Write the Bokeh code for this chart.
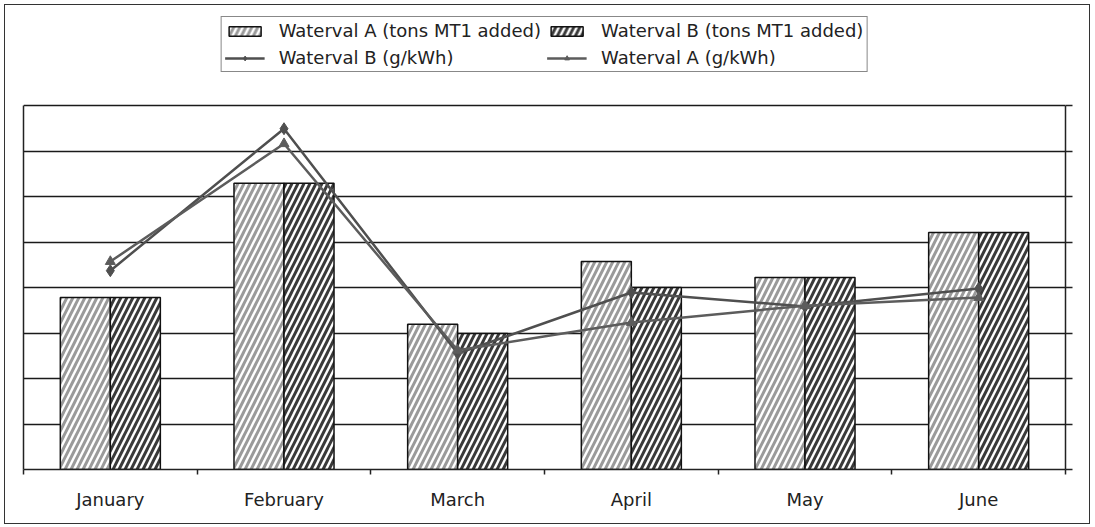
import numpy as np
from bokeh.plotting import figure
from bokeh.models import (Range1d, FixedTicker, LinearAxis, Legend, LegendItem,
                          ColumnDataSource)
from bokeh.transform import dodge
from bokeh.embed import file_html
from bokeh.resources import INLINE

# ---- data (axis units are unlabeled) ----
months = ["January", "February", "March", "April", "May", "June"]
tons_a = [3.78, 6.29, 3.19, 4.57, 4.22, 5.21]   # Waterval A (tons MT1 added)
tons_b = [3.78, 6.29, 2.99, 4.00, 4.22, 5.21]   # Waterval B (tons MT1 added)
gkwh_b = [4.37, 7.49, 2.55, 3.89, 3.58, 3.98]   # Waterval B (g/kWh)
gkwh_a = [4.57, 7.16, 2.62, 3.23, 3.60, 3.78]   # Waterval A (g/kWh)
y_ticks = [0, 1, 2, 3, 4, 5, 6, 7, 8]

FONT = "DejaVu Sans"
xs = np.arange(len(months)) + 0.5
src = ColumnDataSource(dict(x=xs, a=tons_a, b=tons_b, ga=gkwh_a, gb=gkwh_b))

# the frame is extended upward so that the legend sits above the value area
PLOT_H_PX = 364.0       # height of the value area (0..8)
LEGEND_ROOM_PX = 89.0   # room above it for the legend
y_top = max(y_ticks) * (PLOT_H_PX + LEGEND_ROOM_PX) / PLOT_H_PX

p = figure(width=1086, height=520,
           x_range=Range1d(0, len(months)), y_range=Range1d(0, y_top),
           output_backend="svg", toolbar_location=None, y_axis_location="right",
           min_border_left=18, min_border_right=26, min_border_top=11,
           min_border_bottom=56, outline_line_color=None,
           background_fill_color="white", border_fill_color="white",
           styles={"border": "1px solid #333", "margin-left": "4px",
                   "margin-top": "4px"})

# bottom axis: labels at category centres, tick marks at category boundaries
xa = p.xaxis[0]
xa.ticker = FixedTicker(ticks=list(xs), minor_ticks=list(range(len(months) + 1)))
xa.major_label_overrides = {float(x): m for x, m in zip(xs, months)}
xa.major_tick_out = 0
xa.major_tick_in = 0
xa.minor_tick_out = 5
xa.minor_tick_in = 0
xa.minor_tick_line_color = "#222"
xa.minor_tick_line_width = 1.5
xa.axis_line_color = "#222"
xa.axis_line_width = 1.5
xa.major_label_text_font = FONT
xa.major_label_text_font_size = "18px"
xa.major_label_text_color = "#222"
xa.major_label_standoff = 14

# right axis: ticks outward, no labels
ya = p.yaxis[0]
ya.bounds = (0, max(y_ticks))
ya.ticker = FixedTicker(ticks=y_ticks)
ya.major_label_overrides = {t: "" for t in y_ticks}
ya.major_tick_out = 7
ya.major_tick_in = 0
ya.major_tick_line_color = "#222"
ya.major_tick_line_width = 1.5
ya.minor_tick_line_color = None
ya.axis_line_color = "#222"
ya.axis_line_width = 1.5

# left axis: plain line
la_axis = LinearAxis(ticker=FixedTicker(ticks=[]), bounds=(0, max(y_ticks)),
                     axis_line_color="#222", axis_line_width=1.5,
                     major_tick_line_color=None, minor_tick_line_color=None)
p.add_layout(la_axis, "left")

p.xgrid.visible = False
p.ygrid.ticker = FixedTicker(ticks=y_ticks[1:])
p.ygrid.grid_line_color = "#1a1a1a"
p.ygrid.grid_line_width = 1.3

bw = 0.288
ra = p.vbar(x=dodge("x", -bw / 2, range=p.x_range), top="a", width=bw, source=src,
            fill_color="white", line_color="#111", line_width=1.5,
            hatch_pattern="/", hatch_color="#9a9a9a", hatch_weight=3, hatch_scale=12)
rb = p.vbar(x=dodge("x", bw / 2, range=p.x_range), top="b", width=bw, source=src,
            fill_color="white", line_color="#111", line_width=1.5,
            hatch_pattern="/", hatch_color="#3a3a3a", hatch_weight=3, hatch_scale=12)

lb = p.line("x", "gb", source=src, line_color="#4f4f4f", line_width=2.5)
mb = p.scatter("x", "gb", source=src, marker="diamond", size=12,
               fill_color="#4f4f4f", line_color="#4f4f4f")
lA = p.line("x", "ga", source=src, line_color="#5c5c5c", line_width=2.5)
mA = p.scatter("x", "ga", source=src, marker="triangle", size=10,
               fill_color="#5c5c5c", line_color="#5c5c5c")

legend = Legend(items=[
    LegendItem(label="Waterval A (tons MT1 added)", renderers=[ra]),
    LegendItem(label="Waterval B (tons MT1 added)", renderers=[rb]),
    LegendItem(label="Waterval B (g/kWh)", renderers=[lb, mb]),
    LegendItem(label="Waterval A (g/kWh)", renderers=[lA, mA]),
], location="top_center", orientation="horizontal", ncols=2,
    border_line_color="#111", border_line_width=1.5,
    background_fill_color="white", background_fill_alpha=1.0,
    label_text_font=FONT, label_text_font_size="18px", label_text_color="#222",
    glyph_width=40, glyph_height=12, label_standoff=14, spacing=6,
    padding=3, margin=0, label_height=20)
p.add_layout(legend)

open("out.html", "w").write(file_html(p, INLINE))
